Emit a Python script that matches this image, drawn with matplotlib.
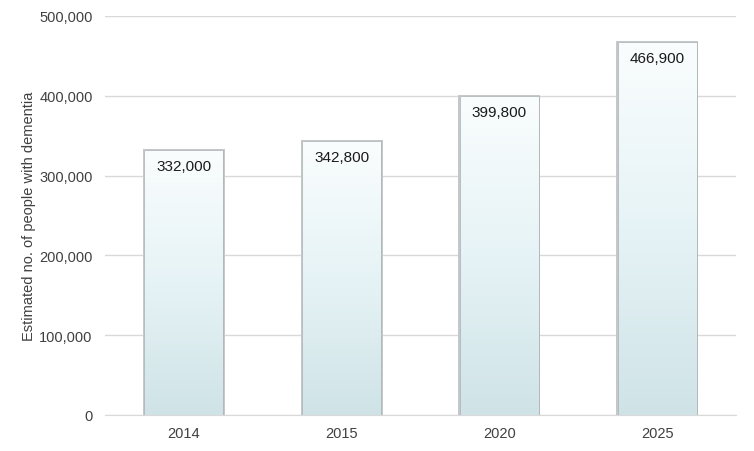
import numpy as np
import matplotlib
matplotlib.use('Agg')
import matplotlib.pyplot as plt
from matplotlib.patches import Rectangle
from matplotlib.colors import LinearSegmentedColormap
from matplotlib.ticker import FuncFormatter

years = ['2014', '2015', '2020', '2025']
people = [332000, 342800, 399800, 466900]
y_ticks = [0, 100000, 200000, 300000, 400000, 500000]

plt.rcParams['font.family'] = ['Liberation Sans', 'DejaVu Sans']

fig = plt.figure(figsize=(7.54, 4.52), dpi=100)
ax = fig.add_axes([105/754, 1 - 416/452, (736-105)/754, (416-17)/452])

# white at top -> pale blue at the bottom
cmap = LinearSegmentedColormap.from_list('barfade', ['#cfe3e7', '#e6f3f6', '#fafdfd'])
grad = np.linspace(0, 1, 256).reshape(-1, 1)

x = np.arange(len(years))
width = 0.5
for i, v in enumerate(people):
    # soft grey shadow around the bar
    sh = Rectangle((x[i] - width/2 - 0.01, 0), width + 0.02, v + 1500,
                   facecolor='#c4c8c9', edgecolor='none', zorder=2)
    ax.add_patch(sh)
    rect = Rectangle((x[i] - width/2, 0), width, v, facecolor='none',
                     edgecolor='#b0b5b7', linewidth=0.6, zorder=4)
    ax.add_patch(rect)
    im = ax.imshow(grad, cmap=cmap, aspect='auto', origin='lower',
                   extent=(x[i] - width/2, x[i] + width/2, 0, v), zorder=3)
    im.set_clip_path(rect)
    ax.text(x[i], v - 11000, f'{v:,}', ha='center', va='top',
            fontsize=11, color='#1a1a1a', zorder=5)

ax.set_xlim(-0.5, len(years) - 0.5)
ax.set_ylim(0, 500000)
ax.set_xticks(x)
ax.set_xticklabels(years)
ax.set_yticks(y_ticks)
ax.yaxis.set_major_formatter(FuncFormatter(lambda v, p: f'{int(v):,}'))
ax.grid(axis='y', color='#d9d9d9', linewidth=1)
ax.set_axisbelow(True)
for s in ['top', 'right', 'left']:
    ax.spines[s].set_visible(False)
ax.spines['bottom'].set_color('#d9d9d9')
ax.tick_params(axis='both', length=0, labelsize=10.5, labelcolor='#404040')
ax.tick_params(axis='y', pad=9)
ax.tick_params(axis='x', pad=8)
ax.set_ylabel('Estimated no. of people with dementia', fontsize=10.5,
              color='#404040', labelpad=2)

fig.savefig('out.png', dpi=100)
